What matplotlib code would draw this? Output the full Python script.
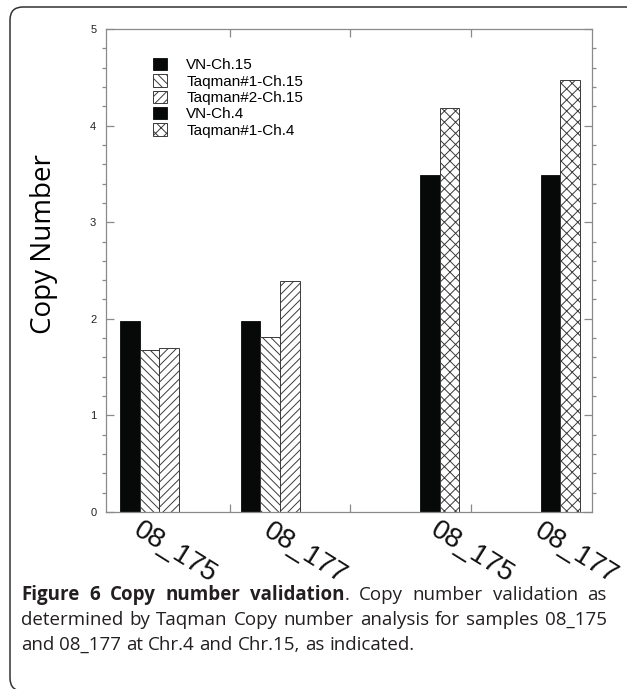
import numpy as np
import matplotlib.pyplot as plt
from matplotlib.patches import FancyBboxPatch
from matplotlib.ticker import MultipleLocator
from matplotlib.transforms import blended_transform_factory

# copy number per sample (chr.15 samples first, then chr.4)
group_pos = [1.175, 2.175, 3.66, 4.66]
sample_labels = ['08_175', '08_177', '08_175', '08_177']
label_pos = [1.55, 2.63, 4.01, 4.87]

series_names = ['VN-Ch.15', 'Taqman#1-Ch.15', 'Taqman#2-Ch.15', 'VN-Ch.4', 'Taqman#1-Ch.4']
vn_ch15 = [1.98, 1.98]
taq1_ch15 = [1.68, 1.81]
taq2_ch15 = [1.70, 2.39]
vn_ch4 = [3.49, 3.49]
taq1_ch4 = [4.18, 4.47]

bar_w = 0.162

plt.rcParams['font.family'] = ['Liberation Sans', 'DejaVu Sans']
plt.rcParams['hatch.linewidth'] = 0.7

fig = plt.figure(figsize=(6.27, 6.89), dpi=100)
ax = fig.add_axes([106/627, 1 - 512/689, 486/627, 483/689])

ch15_x = np.array(group_pos[:2])
ch4_x = np.array(group_pos[2:])
ink = '#070909'
edge = '#3a3a3a'

b1 = ax.bar(ch15_x, vn_ch15, bar_w, color=ink, edgecolor=ink, lw=0.6)
b2 = ax.bar(ch15_x + bar_w, taq1_ch15, bar_w, color='white', edgecolor=edge, hatch='\\\\\\\\', lw=0.7)
b3 = ax.bar(ch15_x + 2*bar_w, taq2_ch15, bar_w, color='white', edgecolor=edge, hatch='////', lw=0.7)
b4 = ax.bar(ch4_x, vn_ch4, bar_w, color=ink, edgecolor=ink, lw=0.6)
b5 = ax.bar(ch4_x + bar_w, taq1_ch4, bar_w, color='white', edgecolor=edge, hatch='xxx', lw=0.7)

ax.set_xlim(0.975, 5.005)
ax.set_ylim(0, 5)

for s in ax.spines.values():
    s.set_color('#8a8a8a')
    s.set_linewidth(0.9)

ax.set_xticks([2, 3, 4])
ax.set_xticklabels([])
ax.tick_params(axis='x', which='major', direction='in', length=6, width=0.9,
               color='#8a8a8a', top=True, bottom=True)
ax.yaxis.set_major_locator(MultipleLocator(1))
ax.yaxis.set_minor_locator(MultipleLocator(0.2))
ax.tick_params(axis='y', which='major', direction='in', length=6, width=0.9,
               color='#8a8a8a', left=True, right=True, pad=7, labelsize=8, labelcolor='#222222')
ax.tick_params(axis='y', which='minor', direction='out', length=3, width=0.9,
               color='#8a8a8a', left=True, right=True)

ax.set_ylabel('Copy Number', family=['Open Sans', 'DejaVu Sans'], fontsize=20)
ax.yaxis.set_label_coords(-0.098, 0.555)

# sample names under each group, tilted
tr = blended_transform_factory(ax.transData, ax.transAxes)
for xp, lab in zip(label_pos, sample_labels):
    ax.text(xp, -0.085, lab, transform=tr, rotation=-32, ha='center', va='center',
            fontsize=20, color='#111111')

leg = ax.legend([b1, b2, b3, b4, b5], series_names, loc='upper left',
                bbox_to_anchor=(0.096, 0.94), borderaxespad=0, borderpad=0,
                frameon=False, fontsize=11, handlelength=0.95, handleheight=0.85,
                handletextpad=1.25, labelspacing=0.13)

# rounded frame around the figure panel
frame = FancyBboxPatch((0.10, -0.02), 6.30, 6.84,
                       boxstyle='round,pad=0,rounding_size=0.13',
                       transform=fig.dpi_scale_trans, fill=False,
                       edgecolor='#333333', lw=1.1, clip_on=False)
fig.patches.append(frame)

# caption, first two lines justified
cap_font = ['Open Sans', 'DejaVu Sans']
cap_size = 13.5
cap_color = '#231f20'
left_px, right_px = 21, 607
lines = [
    ([[('Figure', 'bold')], [('6', 'bold')], [('Copy', 'bold')], [('number', 'bold')],
      [('validation', 'bold'), ('.', 'normal')], [('Copy', 'normal')], [('number', 'normal')],
      [('validation', 'normal')], [('as', 'normal')]], True),
    ([[(w, 'normal')] for w in 'determined by Taqman Copy number analysis for samples 08_175'.split()], True),
    ([[(w, 'normal')] for w in 'and 08_177 at Chr.4 and Chr.15, as indicated.'.split()], False),
]
baselines = [600, 625, 650]

renderer = fig.canvas.get_renderer()


def piece_width(txt, weight):
    t = fig.text(0, 0, txt, family=cap_font, fontsize=cap_size, weight=weight)
    w = t.get_window_extent(renderer).width
    t.remove()
    return w


space_w = piece_width('a a', 'normal') - piece_width('aa', 'normal')

for (words, justify), base in zip(lines, baselines):
    widths = [[piece_width(p, wt) for p, wt in word] for word in words]
    total = sum(sum(w) for w in widths)
    gap = space_w
    if justify and len(words) > 1:
        gap = (right_px - left_px - total) / (len(words) - 1)
    x = left_px
    for word, ws in zip(words, widths):
        for (p, wt), w in zip(word, ws):
            fig.text(x / 627, 1 - base / 689, p, family=cap_font, fontsize=cap_size,
                     weight=wt, color=cap_color, va='baseline', ha='left')
            x += w
        x += gap

fig.savefig('out.png', dpi=100)
